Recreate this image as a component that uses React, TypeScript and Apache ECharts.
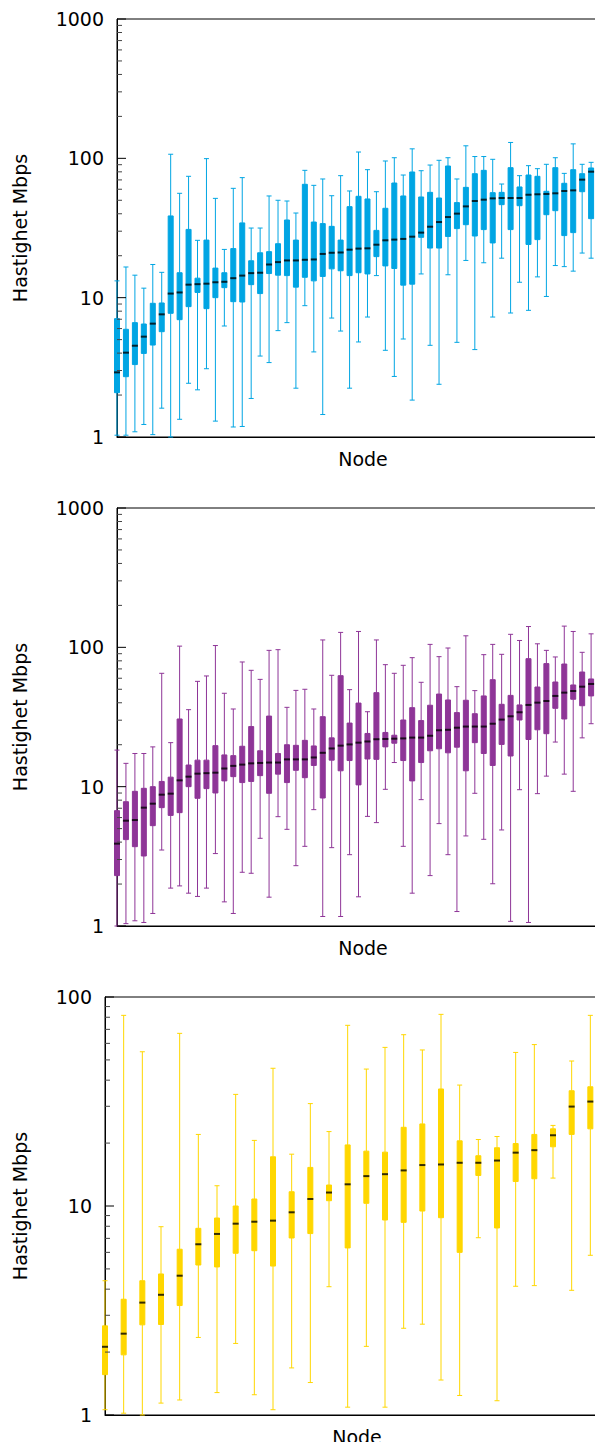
import React, { useEffect, useRef } from 'react';
import * as echarts from 'echarts';

// ---------- Panel 1 (blue) ----------
const p1Min = [1.03, 1.03, 1.09, 1.23, 1.04, 1.61, 1.0, 1.34, 2.43, 2.18, 3.09, 1.30, 6.26, 1.18, 1.19, 1.89, 3.81, 3.42, 5.80, 6.62, 2.24, 8.76, 4.08, 1.45, 7.14, 5.76, 2.24, 4.81, 7.26, 14.4, 4.19, 2.72, 5.05, 1.84, 14.8, 4.55, 2.39, 14.6, 4.78, 18.5, 4.24, 17.8, 7.26, 19.2, 7.76, 12.9, 8.11, 14.1, 10.2, 17.0, 16.7, 15.5, 20.9, 19.2, 17.3];
const p1Q1 = [2.08, 2.71, 3.31, 3.98, 4.57, 5.70, 7.72, 6.95, 8.62, 10.9, 8.34, 10.0, 11.8, 9.36, 9.31, 12.4, 10.7, 14.9, 14.5, 14.4, 11.9, 14.0, 13.2, 14.2, 16.1, 15.6, 14.4, 15.1, 14.8, 19.7, 16.9, 16.2, 12.3, 12.5, 27.1, 22.7, 22.7, 27.5, 31.3, 33.4, 27.7, 30.8, 24.7, 46.5, 30.8, 45.7, 24.1, 26.1, 39.4, 42.1, 27.9, 29.3, 57.6, 36.9, 52.5];
const p1Med = [2.91, 4.03, 4.52, 5.25, 6.51, 7.59, 10.7, 10.9, 12.4, 12.5, 12.6, 12.9, 13.0, 13.8, 14.4, 15.0, 15.1, 17.3, 18.0, 18.5, 18.5, 18.7, 18.8, 20.6, 21.0, 21.1, 22.1, 22.5, 22.6, 24.0, 25.8, 26.1, 26.4, 27.4, 29.3, 32.3, 34.9, 37.9, 40.1, 45.2, 49.4, 50.5, 51.6, 51.9, 51.9, 51.9, 54.8, 55.2, 55.5, 56.1, 58.3, 58.9, 70.3, 80.2, 82.4];
const p1Q3 = [7.07, 5.93, 6.62, 6.47, 9.11, 9.16, 38.6, 15.1, 30.9, 13.8, 25.9, 16.3, 15.1, 22.5, 34.4, 18.4, 21.0, 21.4, 24.4, 36.1, 25.9, 65.1, 34.9, 34.0, 32.5, 25.9, 45.0, 53.4, 51.1, 30.4, 43.8, 66.5, 53.7, 79.8, 52.8, 57.0, 51.9, 88.1, 48.1, 61.9, 77.6, 82.0, 56.7, 57.0, 85.7, 62.3, 75.9, 74.3, 58.0, 85.7, 66.2, 82.9, 77.6, 85.3, 84.8];
const p1Max = [13.2, 16.6, 14.5, 11.7, 17.3, 15.2, 107, 56.1, 74.3, 25.8, 99.5, 51.6, 22.2, 60.9, 72.7, 31.6, 31.6, 53.7, 50.0, 49.4, 40.5, 82.0, 64.0, 71.1, 53.9, 75.1, 58.3, 111, 82.9, 57.6, 95.7, 101, 75.9, 117, 81.5, 89.5, 96.8, 101, 71.1, 123, 103, 103, 98.4, 65.4, 130, 75.1, 88.6, 84.3, 90.6, 101, 78.0, 127, 90.6, 93.6, 131];

// ---------- Panel 2 (purple) ----------
const p2Min = [1.0, 1.04, 1.09, 1.06, 1.23, 3.51, 1.87, 1.94, 1.72, 1.63, 1.87, 3.31, 1.49, 1.23, 2.43, 2.39, 4.26, 1.61, 6.09, 4.94, 2.71, 3.73, 6.84, 1.17, 3.65, 1.17, 3.25, 1.62, 6.12, 5.52, 9.57, 14.9, 3.73, 1.72, 8.07, 2.30, 5.43, 3.25, 1.27, 4.43, 8.96, 4.19, 2.01, 4.89, 1.08, 9.51, 1.06, 8.91, 11.9, 20.9, 12.3, 9.26, 22.4, 28.3, 21.4];
const p2Q1 = [2.30, 4.17, 3.71, 3.18, 5.25, 7.07, 6.22, 6.51, 10.0, 8.25, 9.68, 9.01, 11.0, 11.8, 10.7, 10.9, 12.0, 8.96, 12.3, 10.7, 13.1, 11.6, 14.2, 8.29, 15.5, 13.0, 15.4, 10.3, 15.8, 15.7, 19.3, 20.5, 15.4, 11.0, 14.9, 18.1, 18.7, 17.5, 19.2, 13.0, 20.7, 17.3, 14.2, 20.1, 16.6, 30.1, 21.8, 25.6, 24.0, 36.5, 30.6, 42.4, 38.1, 44.8, 53.7];
const p2Med = [3.90, 5.70, 5.76, 7.07, 7.55, 8.76, 8.91, 11.1, 11.8, 12.4, 12.5, 12.6, 13.5, 14.1, 14.4, 14.7, 14.8, 14.9, 14.9, 15.7, 15.7, 15.7, 16.2, 17.5, 18.8, 19.7, 20.1, 20.7, 21.1, 21.9, 22.0, 22.1, 22.2, 22.5, 22.5, 23.2, 25.4, 25.6, 26.5, 27.0, 27.0, 27.0, 28.3, 30.3, 32.0, 34.2, 38.6, 40.1, 41.2, 44.8, 47.3, 48.6, 52.2, 54.6, 66.8];
const p2Q3 = [6.73, 7.80, 9.26, 9.73, 10.0, 10.9, 11.7, 30.6, 14.3, 15.5, 15.5, 19.7, 16.9, 16.7, 19.5, 27.0, 18.1, 32.1, 17.3, 20.0, 19.8, 21.5, 19.6, 31.8, 22.4, 62.6, 28.6, 39.8, 24.1, 47.3, 24.5, 23.4, 30.1, 36.9, 29.8, 38.4, 46.2, 41.9, 34.0, 41.7, 33.4, 44.8, 58.6, 39.0, 45.2, 38.6, 82.9, 51.9, 76.4, 56.4, 75.9, 53.7, 66.5, 59.3, 77.6];
const p2Max = [18.3, 14.7, 17.3, 17.3, 19.3, 65.1, 20.7, 102, 35.7, 57.0, 62.3, 103, 46.8, 36.1, 78.5, 68.4, 58.9, 95.1, 96.2, 37.1, 49.1, 50.0, 36.1, 113, 63.0, 128, 49.7, 130, 34.5, 113, 75.1, 65.1, 74.3, 84.3, 56.1, 105, 85.7, 98.9, 52.2, 121, 48.9, 88.6, 105, 89.1, 124, 112, 141, 106, 95.1, 85.3, 142, 130, 92.1, 125, 94.6];

// ---------- Panel 3 (yellow) ----------
const p3Min = [1.06, 1.02, 1.0, 1.14, 1.18, 2.35, 1.28, 2.20, 1.25, 1.06, 1.68, 1.43, 4.11, 1.09, 2.13, 1.09, 2.60, 2.72, 1.47, 1.24, 7.05, 1.17, 4.13, 4.16, 13.6, 3.95, 5.81];
const p3Q1 = [1.56, 1.94, 2.70, 2.71, 3.34, 5.22, 5.11, 5.94, 6.11, 5.16, 7.03, 7.38, 10.6, 6.30, 10.3, 8.57, 8.35, 9.46, 8.79, 6.00, 14.0, 7.85, 13.1, 13.5, 19.2, 22.0, 23.4];
const p3Med = [2.12, 2.45, 3.45, 3.76, 4.64, 6.56, 7.35, 8.23, 8.41, 8.51, 9.33, 10.8, 11.6, 12.7, 13.9, 14.2, 14.8, 15.7, 15.8, 16.1, 16.1, 16.5, 18.0, 18.5, 21.8, 29.9, 31.6];
const p3Q3 = [2.67, 3.58, 4.39, 4.73, 6.21, 7.82, 8.76, 10.0, 10.8, 17.2, 11.7, 15.3, 12.6, 19.6, 18.3, 18.1, 23.8, 24.7, 36.3, 20.5, 17.4, 19.0, 19.9, 22.0, 23.4, 35.6, 37.2];
const p3Max = [4.39, 81.7, 54.7, 7.96, 67.0, 22.0, 12.5, 34.2, 20.6, 45.6, 17.7, 30.9, 22.7, 73.2, 45.2, 57.4, 66.0, 55.8, 82.6, 37.9, 20.8, 21.5, 54.3, 59.2, 24.3, 49.4, 81.7];

const yAxisName = 'Hastighet Mbps';
const xAxisName = 'Node';

const FONT = 'DejaVu Sans';
const FS = 19;

const panels = [
  { min: p1Min, q1: p1Q1, med: p1Med, q3: p1Q3, max: p1Max, color: '#00a5e3', yMax: 1000, top: 19, left: 117, width: 492, nameGap: 88 },
  { min: p2Min, q1: p2Q1, med: p2Med, q3: p2Q3, max: p2Max, color: '#8e3597', yMax: 1000, top: 508, left: 117, width: 492, nameGap: 88 },
  { min: p3Min, q1: p3Q1, med: p3Med, q3: p3Q3, max: p3Max, color: '#ffd700', yMax: 100, top: 997, left: 105, width: 504, nameGap: 76 },
];

function buildOption() {
  const grid: any[] = [];
  const xAxis: any[] = [];
  const yAxis: any[] = [];
  const series: any[] = [];
  panels.forEach((p, gi) => {
    const n = p.med.length;
    grid.push({
      left: p.left, top: p.top, width: p.width, height: 418,
      outerBoundsMode: 'none', containLabel: false,
      show: true, borderColor: '#000', borderWidth: 1, backgroundColor: 'transparent',
    });
    xAxis.push({
      type: 'value', gridIndex: gi, min: 0, max: n,
      axisLine: { show: true, lineStyle: { color: '#000', width: 1 } },
      axisTick: { show: false }, axisLabel: { show: false }, splitLine: { show: false },
      name: xAxisName, nameLocation: 'middle', nameGap: 12,
      nameTextStyle: { fontSize: FS, color: '#000', fontFamily: FONT },
    });
    yAxis.push({
      type: 'log', logBase: 10, gridIndex: gi, min: 1, max: p.yMax,
      axisLine: { show: true, lineStyle: { color: '#000', width: 1 } },
      axisTick: { show: false }, splitLine: { show: false },
      axisLabel: { fontSize: FS, color: '#000', margin: 13, fontFamily: FONT, formatter: (v: number) => String(Math.round(v)) },
      name: yAxisName, nameLocation: 'middle', nameGap: p.nameGap, nameRotate: 90,
      nameTextStyle: { fontSize: FS, color: '#000', fontFamily: FONT },
    });
    const data = p.med.map((_, i) => [i, p.min[i], p.q1[i], p.med[i], p.q3[i], p.max[i]]);
    series.push({
      type: 'boxplot', xAxisIndex: gi, yAxisIndex: gi, data,
      boxWidth: [5, 5], silent: true,
      itemStyle: { color: p.color, borderColor: p.color, borderWidth: 1 },
    });
    series.push({
      type: 'scatter', xAxisIndex: gi, yAxisIndex: gi, silent: true, z: 5,
      symbol: 'rect', symbolSize: [6, 2],
      itemStyle: { color: '#000' },
      data: p.med.map((m, i) => [i, m]),
    });
    // axis ticks (major + minor) on left and right frames, mirrored inwards
    const tickData: number[][] = [];
    for (let dec = 1; dec <= p.yMax; dec *= 10) {
      for (let k = 1; k <= 9; k++) {
        const v = dec * k;
        if (v > p.yMax) break;
        tickData.push([0, v, k === 1 ? 1 : 0]);
      }
    }
    series.push({
      type: 'custom', xAxisIndex: gi, yAxisIndex: gi, silent: true, z: 6,
      data: tickData,
      renderItem: (params: any, api: any) => {
        const v = api.value(1);
        const len = api.value(2) ? 9 : 5;
        const pl = api.coord([0, v]);
        const pr = api.coord([n, v]);
        const st = { stroke: api.value(2) ? '#000' : '#444', lineWidth: 1 };
        return {
          type: 'group',
          children: [
            { type: 'line', shape: { x1: pl[0], y1: pl[1], x2: pl[0] + len, y2: pl[1] }, style: st },
            { type: 'line', shape: { x1: pr[0], y1: pr[1], x2: pr[0] - len, y2: pr[1] }, style: st },
          ],
        };
      },
    });
  });
  return { animation: false, backgroundColor: '#fff', grid, xAxis, yAxis, series };
}

export default function App() {
  const ref = useRef<HTMLDivElement>(null);
  useEffect(() => {
    if (!ref.current) return;
    const chart = echarts.init(ref.current, undefined, { renderer: 'svg' });
    chart.setOption(buildOption() as any);
    return () => chart.dispose();
  }, []);
  return (
    <div style={{ marginLeft: -8, marginTop: -8, marginBottom: -8, width: 603, height: 1450, overflow: 'hidden' }}>
      <div ref={ref} style={{ width: 603, height: 1450 }} />
    </div>
  );
}
